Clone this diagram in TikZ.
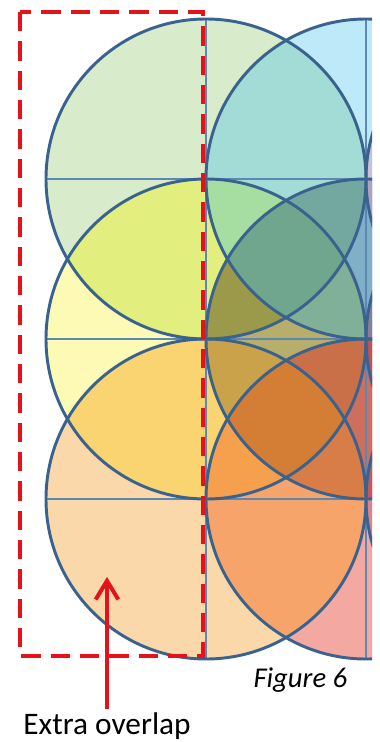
\documentclass[tikz,border=0pt]{standalone}
\usepackage{fontspec}
\setmainfont{Carlito}
\usetikzlibrary{arrows.meta}

\tikzset{every picture/.style={line width=0.75pt}}
\tikzset{
  rim/.style={draw={rgb, 255:red, 58; green, 98; blue, 142 }, line width=2.2pt},
  gridline/.style={draw={rgb, 255:red, 92; green, 136; blue, 178 }, line width=0.8pt},
  overlapbox/.style={draw={rgb, 255:red, 228; green, 18; blue, 26 }, line width=3.5pt, dash pattern={on 14.5pt off 7.5pt}},
  pointer/.style={draw={rgb, 255:red, 228; green, 18; blue, 26 }, line width=3pt, -{Straight Barb[length=14pt, width=17pt]}},
}

% circles of the packing, radius 160
\def\cTL{(206,179) circle (160)}
\def\cTR{(366,179) circle (160)}
\def\cML{(206,339) circle (160)}
\def\cMR{(366,339) circle (160)}
\def\cBL{(206,499) circle (160)}
\def\cBR{(366,499) circle (160)}
\def\cTT{(526,179) circle (160)}
\def\cMT{(526,339) circle (160)}
\def\cBT{(526,499) circle (160)}

\begin{document}
\begin{tikzpicture}[x=0.75pt,y=0.75pt,yscale=-1,xscale=1]
\useasboundingbox (0,0) rectangle (379,742);

\begin{scope}
\clip (0,0) rectangle (372,742);
%Shape: Circle [single]
\fill [color={rgb, 255:red, 216; green, 235; blue, 202 }] \cTL ;
\fill [color={rgb, 255:red, 189; green, 233; blue, 248 }] \cTR ;
\fill [color={rgb, 255:red, 253; green, 250; blue, 182 }] \cML ;
\fill [color={rgb, 255:red, 140; green, 180; blue, 205 }] \cMR ;
\fill [color={rgb, 255:red, 250; green, 216; blue, 170 }] \cBL ;
\fill [color={rgb, 255:red, 244; green, 168; blue, 162 }] \cBR ;

%Shape: Lens [pairs]
\begin{scope} \clip \cTL; \fill [color={rgb, 255:red, 163; green, 220; blue, 214 }] \cTR; \end{scope}
\begin{scope} \clip \cTL; \fill [color={rgb, 255:red, 226; green, 239; blue, 126 }] \cML; \end{scope}
\begin{scope} \clip \cTL; \fill [color={rgb, 255:red, 120; green, 168; blue, 150 }] \cMR; \end{scope}
\begin{scope} \clip \cTR; \fill [color={rgb, 255:red, 166; green, 222; blue, 162 }] \cML; \end{scope}
\begin{scope} \clip \cTR; \fill [color={rgb, 255:red, 128; green, 176; blue, 200 }] \cMR; \end{scope}
\begin{scope} \clip \cML; \fill [color={rgb, 255:red, 184; green, 174; blue, 108 }] \cMR; \end{scope}
\begin{scope} \clip \cML; \fill [color={rgb, 255:red, 250; green, 212; blue, 112 }] \cBL; \end{scope}
\begin{scope} \clip \cML; \fill [color={rgb, 255:red, 246; green, 160; blue, 78 }] \cBR; \end{scope}
\begin{scope} \clip \cMR; \fill [color={rgb, 255:red, 216; green, 124; blue, 72 }] \cBL; \end{scope}
\begin{scope} \clip \cMR; \fill [color={rgb, 255:red, 206; green, 110; blue, 92 }] \cBR; \end{scope}
\begin{scope} \clip \cBL; \fill [color={rgb, 255:red, 246; green, 164; blue, 106 }] \cBR; \end{scope}

%Shape: Lens [triples]
\begin{scope} \clip \cTL; \clip \cTR; \fill [color={rgb, 255:red, 166; green, 222; blue, 162 }] \cML; \end{scope}
\begin{scope} \clip \cTL; \clip \cTR; \fill [color={rgb, 255:red, 114; green, 168; blue, 160 }] \cMR; \end{scope}
\begin{scope} \clip \cTL; \clip \cML; \fill [color={rgb, 255:red, 154; green, 154; blue, 74 }] \cMR; \end{scope}
\begin{scope} \clip \cTR; \clip \cML; \fill [color={rgb, 255:red, 128; green, 176; blue, 152 }] \cMR; \end{scope}
\begin{scope} \clip \cML; \clip \cMR; \fill [color={rgb, 255:red, 201; green, 162; blue, 74 }] \cBL; \end{scope}
\begin{scope} \clip \cML; \clip \cMR; \fill [color={rgb, 255:red, 202; green, 112; blue, 72 }] \cBR; \end{scope}
\begin{scope} \clip \cML; \clip \cBL; \fill [color={rgb, 255:red, 246; green, 160; blue, 78 }] \cBR; \end{scope}
\begin{scope} \clip \cMR; \clip \cBL; \fill [color={rgb, 255:red, 216; green, 124; blue, 72 }] \cBR; \end{scope}

%Shape: Lens [quads]
\begin{scope} \clip \cTL; \clip \cTR; \clip \cML; \fill [color={rgb, 255:red, 112; green, 166; blue, 142 }] \cMR; \end{scope}
\begin{scope} \clip \cML; \clip \cMR; \clip \cBL; \fill [color={rgb, 255:red, 212; green, 126; blue, 53 }] \cBR; \end{scope}

%Shape: Circle [third column]
\fill [color={rgb, 255:red, 226; green, 150; blue, 180 }, fill opacity=0.5] \cTT ;
\fill [color={rgb, 255:red, 170; green, 30; blue, 70 }, fill opacity=0.35] \cMT ;
\fill [color={rgb, 255:red, 180; green, 40; blue, 90 }, fill opacity=0.3] \cBT ;

%Straight Lines [grid]
\draw [gridline] (46,179) -- (372,179) ;
\draw [gridline] (46,339) -- (372,339) ;
\draw [gridline] (46,499) -- (372,499) ;
\draw [gridline] (206,19) -- (206,659) ;
\draw [gridline] (366,19) -- (366,659) ;

%Shape: Circle [outlines]
\draw [rim] \cTL ;
\draw [rim] \cTR ;
\draw [rim] \cML ;
\draw [rim] \cMR ;
\draw [rim] \cBL ;
\draw [rim] \cBR ;
\draw [rim] \cTT ;
\draw [rim] \cMT ;
\draw [rim] \cBT ;
\end{scope}

%Shape: Rectangle [id:overlap]
\draw [overlapbox] (20,12) rectangle (203,656) ;

% Text Node
\node (extra) [anchor=base, inner sep=2pt, font=\fontsize{23.5}{28}\selectfont] at (107,734) {Extra overlap};
% Text Node
\node (fig) [anchor=base west, inner sep=0.75pt, font=\fontsize{21.5}{25}\selectfont\itshape] at (252,687) {Figure 6};
\coordinate (tip) at (107,577);
%Straight Lines [arrow]
\draw [pointer] (extra) -- (tip) ;
\end{tikzpicture}
\end{document}
